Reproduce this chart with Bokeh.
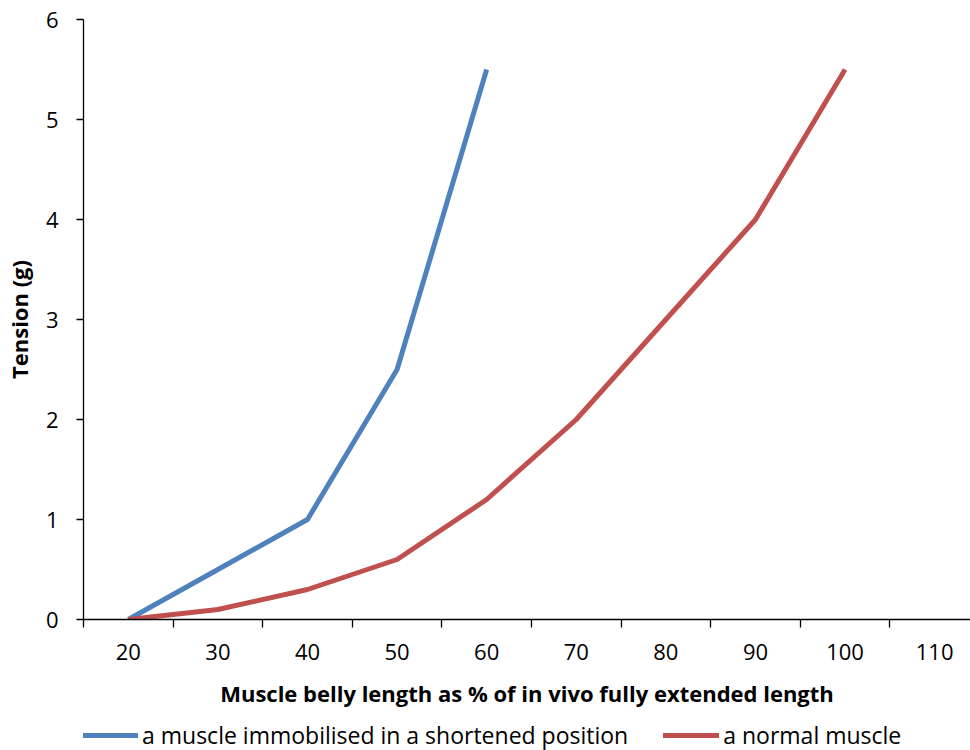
from bokeh.plotting import figure
from bokeh.models import Range1d, FixedTicker, Legend, LegendItem
from bokeh.layouts import column
from bokeh.embed import file_html
from bokeh.resources import INLINE

# Data
categories = [20, 30, 40, 50, 60, 70, 80, 90, 100, 110]
immobilised_x = [20, 30, 40, 50, 60]
immobilised_y = [0, 0.5, 1, 2.5, 5.5]
normal_x = [20, 30, 40, 50, 60, 70, 80, 90, 100]
normal_y = [0, 0.1, 0.3, 0.6, 1.2, 2, 3, 4, 5.5]
y_ticks = [0, 1, 2, 3, 4, 5, 6]
series_labels = ["a muscle immobilised in a shortened position", "a normal muscle"]
series_colors = ["#4F81BD", "#C0504D"]

FONT = "Open Sans"
step = categories[1] - categories[0]
boundaries = [c - step / 2 for c in categories] + [categories[-1] + step / 2]

p = figure(width=970, height=714, output_backend="svg", toolbar_location=None,
           x_range=Range1d(boundaries[0], boundaries[-1] - 1), y_range=Range1d(0, 6),
           min_border_left=83, min_border_right=0, min_border_top=19, min_border_bottom=95)
p.outline_line_color = None
p.xgrid.visible = False
p.ygrid.visible = False

p.line(immobilised_x, immobilised_y, line_color=series_colors[0], line_width=5, line_join="round")
p.line(normal_x, normal_y, line_color=series_colors[1], line_width=5, line_join="round")

xa = p.xaxis[0]
xa.ticker = FixedTicker(ticks=categories, minor_ticks=boundaries)
xa.major_tick_out = 0
xa.major_tick_in = 0
xa.minor_tick_out = 8
xa.minor_tick_in = 0
xa.minor_tick_line_color = "black"
xa.axis_line_color = "black"
xa.axis_line_width = 1.3
xa.minor_tick_line_width = 1.3
xa.major_label_standoff = 16
xa.major_label_text_font = FONT
xa.major_label_text_font_size = "22px"
xa.major_label_text_color = "black"
xa.axis_label = "Muscle belly length as % of in vivo fully extended length"
xa.axis_label_text_font = FONT
xa.axis_label_text_font_style = "bold"
xa.axis_label_text_font_size = "22px"
xa.axis_label_text_color = "black"
xa.axis_label_standoff = 15

ya = p.yaxis[0]
ya.ticker = FixedTicker(ticks=y_ticks, minor_ticks=[])
ya.major_tick_out = 7
ya.major_tick_in = 0
ya.major_tick_line_width = 1.3
ya.axis_line_width = 1.3
ya.major_label_standoff = 18
ya.major_label_text_font = FONT
ya.major_label_text_font_size = "22px"
ya.major_label_text_color = "black"
ya.axis_label = "Tension (g)"
ya.axis_label_text_font = FONT
ya.axis_label_text_font_style = "bold"
ya.axis_label_text_font_size = "22px"
ya.axis_label_text_color = "black"
ya.axis_label_standoff = 9

# Legend row below the chart (its frame is aligned with the chart's frame)
p2 = figure(width=970, height=36, output_backend="svg", toolbar_location=None,
            x_range=Range1d(0, 1), y_range=Range1d(0, 1),
            x_axis_location=None, y_axis_location=None,
            min_border_left=0, min_border_right=0, min_border_top=0, min_border_bottom=0)
p2.outline_line_color = None
p2.xgrid.visible = False
p2.ygrid.visible = False
items = []
for lab, col in zip(series_labels, series_colors):
    r = p2.line(x=[-1, -1], y=[-1, -1], line_color=col, line_width=5, line_cap="round")
    items.append(LegendItem(label=lab, renderers=[r]))

legend = Legend(items=items, orientation="horizontal", location=(-1, -1),
    glyph_width=56, glyph_height=20, label_standoff=4, spacing=35,
    padding=0, margin=0, border_line_color=None, background_fill_alpha=0,
    label_text_font=FONT, label_text_font_size="23px", label_text_color="black")
p2.add_layout(legend, "center")

layout = column(p, p2, spacing=0)
open("out.html", "w").write(file_html(layout, INLINE))
